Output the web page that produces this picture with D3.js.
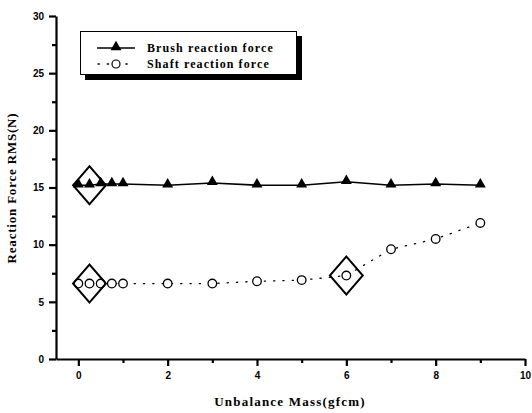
<!DOCTYPE html>
<html>
<head>
<meta charset="utf-8">
<script src="https://cdn.jsdelivr.net/npm/d3@7"></script>
<style>
  html, body { margin: 0; padding: 0; background: #fff; }
  svg { display: block; }
</style>
</head>
<body>
<svg id="chart" width="532" height="413"></svg>
<script>
// Unbalance mass (g cm) at which the forces were measured
const massValues = [0, 0.25, 0.5, 0.75, 1, 2, 3, 4, 5, 6, 7, 8, 9];
// RMS reaction forces (N)
const brushForce = [15.2, 15.2, 15.3, 15.3, 15.3, 15.2, 15.4, 15.2, 15.2, 15.5, 15.2, 15.3, 15.2];
const shaftForce = [6.6, 6.6, 6.6, 6.6, 6.6, 6.6, 6.6, 6.8, 6.9, 7.3, 9.6, 10.5, 11.9];
// Highlighted points [mass, force]
const highlights = [[0.25, 15.2], [0.25, 6.6], [6, 7.3]];
const xTicks = [0, 2, 4, 6, 8, 10];
const xMinorTicks = [1, 3, 5, 7, 9];
const yTicks = [0, 5, 10, 15, 20, 25, 30];
const yMinorTicks = [2.5, 7.5, 12.5, 17.5, 22.5, 27.5];
const seriesNames = ["Brush reaction force", "Shaft reaction force"];

const svg = d3.select("#chart");
const x = d3.scaleLinear().domain([-0.5, 10]).range([56, 525]);
const y = d3.scaleLinear().domain([0, 30]).range([359, 16]);

const tickFont = "'Liberation Sans', Arial, sans-serif";
const titleFont = "'Liberation Serif', 'Times New Roman', serif";

function inkAxis(g) {
  g.selectAll("path.domain").attr("stroke", "#000").attr("stroke-width", 2.2);
  g.selectAll("g.tick line").attr("stroke", "#000").attr("stroke-width", 2.2);
  g.selectAll("g.tick text")
    .attr("font-family", tickFont).attr("font-size", 10).attr("font-weight", "bold").attr("fill", "#000");
}

// X axis: labelled ticks every 2, minor ticks at odd values
const gx = svg.append("g").attr("transform", "translate(0," + y(0) + ")")
  .call(d3.axisBottom(x).tickValues(xTicks).tickSizeInner(7).tickSizeOuter(0).tickPadding(6).tickFormat(d3.format("d")));
inkAxis(gx);
const gxm = svg.append("g").attr("transform", "translate(0," + y(0) + ")")
  .call(d3.axisBottom(x).tickValues(xMinorTicks).tickSizeInner(4).tickSizeOuter(0).tickFormat(""));
gxm.select("path.domain").remove();
inkAxis(gxm);

// Y axis: labels every 5, minor ticks halfway
const gy = svg.append("g").attr("transform", "translate(" + x(-0.5) + ",0)")
  .call(d3.axisLeft(y).tickValues(yTicks).tickSizeInner(7).tickSizeOuter(0).tickPadding(5).tickFormat(d3.format("d")));
inkAxis(gy);
const gym = svg.append("g").attr("transform", "translate(" + x(-0.5) + ",0)")
  .call(d3.axisLeft(y).tickValues(yMinorTicks).tickSizeInner(4).tickSizeOuter(0).tickFormat(""));
gym.select("path.domain").remove();
inkAxis(gym);

// Axis titles
svg.append("text")
  .attr("x", 290).attr("y", 406).attr("text-anchor", "middle")
  .attr("font-family", titleFont).attr("font-size", 13).attr("font-weight", "bold")
  .attr("letter-spacing", 1.2)
  .text("Unbalance Mass(gfcm)");
svg.append("text")
  .attr("transform", "translate(16,188) rotate(-90)").attr("text-anchor", "middle")
  .attr("font-family", titleFont).attr("font-size", 13).attr("font-weight", "bold")
  .attr("letter-spacing", 0.8)
  .text("Reaction Force RMS(N)");

const brushData = massValues.map((m, i) => [m, brushForce[i]]);
const shaftData = massValues.map((m, i) => [m, shaftForce[i]]);
const line = d3.line().x(d => x(d[0])).y(d => y(d[1]));

// Brush series: solid line with filled triangles
svg.append("path").datum(brushData).attr("d", line)
  .attr("fill", "none").attr("stroke", "#000").attr("stroke-width", 1.6);
const tri = d3.symbol().type(d3.symbolTriangle).size(52);
svg.append("g").selectAll("path").data(brushData).join("path")
  .attr("transform", d => "translate(" + x(d[0]) + "," + (y(d[1]) - 1) + ")")
  .attr("d", tri).attr("fill", "#000");

// Shaft series: sparse dotted line with open circles
svg.append("path").datum(shaftData).attr("d", line)
  .attr("fill", "none").attr("stroke", "#000").attr("stroke-width", 1.3)
  .attr("stroke-dasharray", "1.3,8").attr("stroke-linecap", "round");
svg.append("g").selectAll("circle").data(shaftData).join("circle")
  .attr("cx", d => x(d[0])).attr("cy", d => y(d[1])).attr("r", 4.3)
  .attr("fill", "#fff").attr("stroke", "#000").attr("stroke-width", 1.3);

// Diamond outlines around highlighted points
const diamond = d3.symbol().type(d3.symbolDiamond2).size(760);
svg.append("g").selectAll("path").data(highlights).join("path")
  .attr("transform", d => "translate(" + x(d[0]) + "," + y(d[1]) + ") scale(0.95,1.1)")
  .attr("d", diamond).attr("fill", "none").attr("stroke", "#000").attr("stroke-width", 2);

// Legend frame with drop shadow
svg.append("rect").attr("x", 85).attr("y", 36).attr("width", 217).attr("height", 44).attr("fill", "#000");
svg.append("rect").attr("x", 80.5).attr("y", 31.5).attr("width", 216).attr("height", 43)
  .attr("fill", "#fff").attr("stroke", "#000").attr("stroke-width", 1);
svg.append("line").attr("x1", 97).attr("x2", 135).attr("y1", 48).attr("y2", 48)
  .attr("stroke", "#000").attr("stroke-width", 1.6);
svg.append("path").attr("transform", "translate(116,47)").attr("d", tri).attr("fill", "#000");
svg.append("line").attr("x1", 98).attr("x2", 135).attr("y1", 64).attr("y2", 64)
  .attr("stroke", "#000").attr("stroke-width", 1.3).attr("stroke-dasharray", "1.3,8").attr("stroke-linecap", "round");
svg.append("circle").attr("cx", 116).attr("cy", 64).attr("r", 4).attr("fill", "#fff")
  .attr("stroke", "#000").attr("stroke-width", 1.2);
svg.selectAll("text.lab").data(seriesNames).join("text").attr("class", "lab")
  .attr("x", 147).attr("y", (d, i) => 52 + i * 16)
  .attr("font-family", titleFont).attr("font-size", 12).attr("font-weight", "bold")
  .attr("letter-spacing", 1.1)
  .text(d => d);
</script>
</body>
</html>
